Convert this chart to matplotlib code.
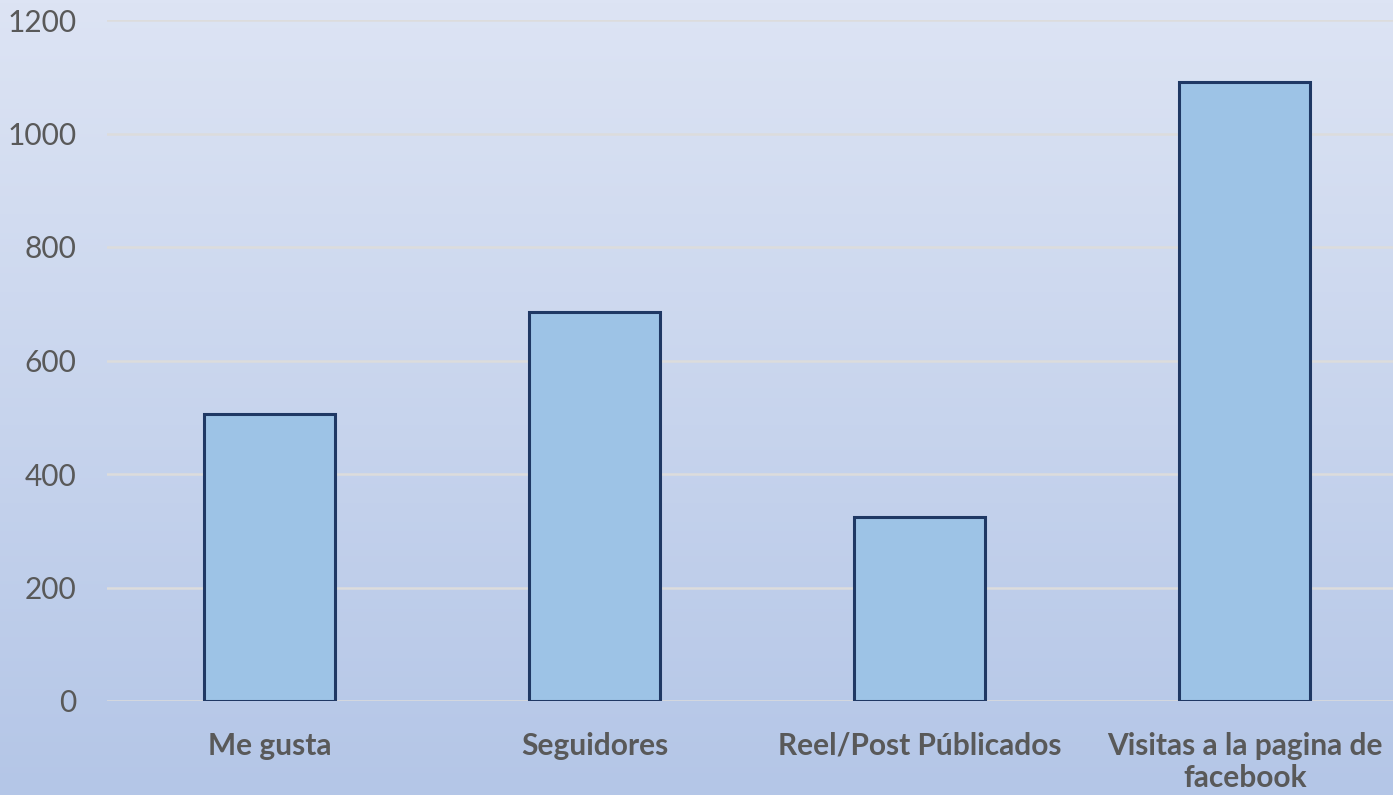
import numpy as np
import matplotlib.pyplot as plt
from matplotlib.colors import LinearSegmentedColormap

categorias = ["Me gusta", "Seguidores", "Reel/Post Públicados", "Visitas a la pagina de\nfacebook"]
valores = [505, 685, 324, 1090]
yticks = [0, 200, 400, 600, 800, 1000, 1200]

plt.rcParams['font.family'] = ['Lato', 'DejaVu Sans']

fig = plt.figure(figsize=(13.93, 7.95), dpi=100)

# fondo degradado
bg = fig.add_axes([0, 0, 1, 1], zorder=0)
cmap = LinearSegmentedColormap.from_list("fondo", ["#b4c6e7", "#dde4f4"])
grad = np.linspace(0, 1, 256).reshape(-1, 1)
bg.imshow(grad, aspect="auto", cmap=cmap, origin="lower", extent=[0, 1, 0, 1])
bg.axis("off")

ax = fig.add_axes([107/1393, 1 - 701/795, (1407.5 - 107)/1393, 681/795], zorder=1)
ax.set_facecolor("none")

x = np.arange(len(categorias))
ax.bar(x, valores, width=0.403, color="#9dc3e6", edgecolor="#1f3864", linewidth=2.2, zorder=3)

ax.set_xlim(-0.5, 3.5)
ax.set_ylim(0, 1200)
ax.set_yticks(yticks)
ax.set_yticklabels([str(v) for v in yticks], fontsize=21.5, color="#595959")
ax.set_xticks(x)
ax.set_xticklabels(categorias, fontsize=21.5, fontweight="bold", color="#595959", linespacing=1.2)
ax.tick_params(axis="both", length=0)
ax.tick_params(axis="y", pad=22)
ax.tick_params(axis="x", pad=22)

ax.yaxis.grid(True, color="#dcdcdc", linewidth=1.8, zorder=0)
ax.set_axisbelow(True)
for s in ax.spines.values():
    s.set_visible(False)

fig.savefig("out.png", dpi=100)
